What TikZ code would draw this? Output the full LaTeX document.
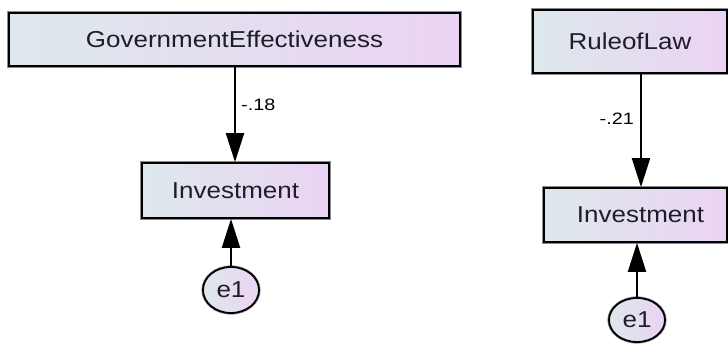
\documentclass[tikz,border=0pt]{standalone}
\usepackage{fontspec}
\setmainfont{Liberation Sans}
\usetikzlibrary{arrows.meta,shapes.geometric}
\definecolor{shadeL}{HTML}{DDE8EC}
\definecolor{shadeR}{HTML}{EBD3F3}
\definecolor{inkc}{HTML}{1E1E2A}
\newcommand{\semtext}[1]{\scalebox{1.13}[1]{#1}}
\newcommand{\semlabel}[1]{\scalebox{1.2}[1]{#1}}
\tikzset{
  varbox/.style={rectangle, draw=black, line width=1.8pt,
    left color=shadeL, right color=shadeR, text=inkc,
    font=\fontsize{23}{27}\selectfont, inner sep=0pt,
    preaction={draw=black!45, line width=3.4pt}},
  errnode/.style={ellipse, draw=black, line width=1.8pt,
    left color=shadeL, right color=shadeR, text=inkc,
    font=\fontsize{23}{27}\selectfont, inner sep=0pt,
    preaction={draw=black!45, line width=3.2pt}},
  pathlab/.style={text=black, font=\fontsize{16.5}{19}\selectfont, inner sep=0pt},
  regarrow/.style={draw=black, line width=2.2pt,
    -{Triangle[length=29pt,width=18pt]}}
}
\begin{document}
\begin{tikzpicture}[x=1pt,y=1pt]
\useasboundingbox (0,0) rectangle (728,345);

% left model
\node[varbox, minimum width=451pt, minimum height=53pt] (ge) at (234.5,305.5) {\semtext{GovernmentEffectiveness}};
\node[varbox, minimum width=187pt, minimum height=55pt] (invL) at (235.5,154.5) {\semtext{Investment}};
\node[errnode, minimum width=56pt, minimum height=46pt] (e1L) at (231,55) {\semtext{e1}};
\coordinate (colL) at (235,0);
\draw[regarrow] (colL |- ge.south) -- (colL |- invL.north);
\draw[regarrow] (e1L.north) -- (e1L.north |- invL.south);
\node[pathlab, anchor=west] (bL) at (241,240) {\semlabel{-.18}};

% right model
\node[varbox, minimum width=194pt, minimum height=63pt] (rol) at (630,303.5) {\semtext{RuleofLaw}};
\node[varbox, minimum width=183pt, minimum height=54pt] (invR) at (635.5,130) {\hspace*{10pt}\semtext{Investment}};
\node[errnode, minimum width=56pt, minimum height=44pt] (e1R) at (637,25) {\semtext{e1}};
\coordinate (colR) at (641,0);
\draw[regarrow] (colR |- rol.south) -- (colR |- invR.north);
\draw[regarrow] (e1R.north) -- (e1R.north |- invR.south);
\node[pathlab, anchor=east] (bR) at (634,226) {\semlabel{-.21}};
\end{tikzpicture}
\end{document}
